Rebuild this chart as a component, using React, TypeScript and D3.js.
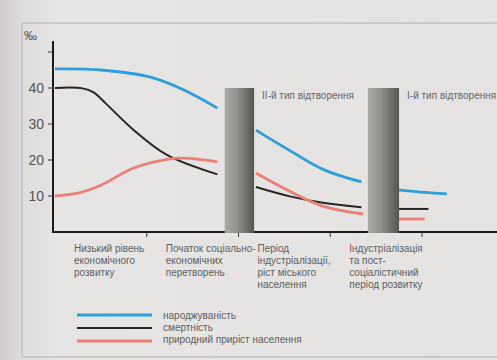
import React from "react";
import * as d3 from "d3";

// stage positions (x in stage units, 0 = y-axis, 1..4 = stage boundaries)
const stageTicks = [1, 2, 3, 4];
const yTicks = [10, 20, 30, 40, 50];
const yTickLabels = ["10", "20", "30", "40", ""];

const categories = [
  ["Низький рівень", "економічного", "розвитку"],
  ["Початок соціально-", "економічних", "перетворень"],
  ["Період", "індустріалізації,", "ріст міського", "населення"],
  ["Індустріалізація", "та пост-", "соціалістичний", "період розвитку"],
];
const categoryStart = [0, 1, 2, 3];

const bands = [
  [1.85, 2.17],
  [3.41, 3.75],
];
const bandLabels = ["ІІ-й тип відтворення", "І-й тип відтворення"];

// birth rate (народжуваність)
const birthSegments: [number, number][][] = [
  [[0, 45.3], [0.5, 45], [1.04, 43], [1.4, 39.5], [1.77, 34.4]],
  [[2.19, 28.3], [2.56, 22.6], [2.92, 17.4], [3.34, 13.9]],
  [[3.74, 11.7], [3.98, 11.1], [4.27, 10.6]],
];
// death rate (смертність)
const deathSegments: [number, number][][] = [
  [[0, 40], [0.3, 39.9], [0.42, 38.8], [0.55, 35.8], [0.85, 28.5], [1.22, 21.4], [1.77, 16]],
  [[2.19, 12.5], [2.56, 9.9], [2.92, 8.1], [3.34, 6.9]],
  [[3.74, 6.4], [4.07, 6.4]],
];
// natural increase (природний приріст)
const growthSegments: [number, number][][] = [
  [[0, 10], [0.25, 10.8], [0.5, 13], [0.85, 17.7], [1.22, 20.2], [1.4, 20.5], [1.77, 19.5]],
  [[2.19, 16.4], [2.56, 11.3], [2.92, 7.2], [3.36, 5]],
  [[3.74, 3.6], [4.03, 3.6]],
];

const legendLabels = ["народжуваність", "смертність", "природний приріст населення"];
const seriesColors = ["#2f9fd9", "#262626", "#ec7f78"];

export default function App() {
  const W = 497, H = 360;
  const x = d3.scaleLinear().domain([0, 4]).range([55, 422]);
  const y = d3.scaleLinear().domain([0, 50]).range([232, 52]);
  const line = d3
    .line<[number, number]>()
    .x((d) => x(d[0]))
    .y((d) => y(d[1]))
    .curve(d3.curveCatmullRom.alpha(0.5));
  const allSeries = [birthSegments, deathSegments, growthSegments];
  const widths = [2.8, 2, 2.8];
  const font = "'Liberation Sans', Arial, sans-serif";

  return (
    <svg
      width={W}
      height={H}
      style={{ position: "absolute", left: 0, top: 0 }}
      fontFamily={font}
    >
      <defs>
        <linearGradient id="bg" x1="0" x2="1" y1="0" y2="0">
          <stop offset="0" stopColor="#cfcacb" />
          <stop offset="0.045" stopColor="#dedcdc" />
          <stop offset="0.12" stopColor="#e6e5e4" />
          <stop offset="1" stopColor="#e4e3e1" />
        </linearGradient>
        <linearGradient id="band" x1="0" x2="1" y1="0" y2="0">
          <stop offset="0" stopColor="#a9a9a6" />
          <stop offset="0.45" stopColor="#8e8e8b" />
          <stop offset="1" stopColor="#55554f" />
        </linearGradient>
      </defs>
      <rect x={0} y={0} width={W} height={H} fill="url(#bg)" />
      {/* frame */}
      <path d={`M${W},23 H22 V357 H${W}`} fill="none" stroke="#b4b2b2" strokeWidth={1} />

      {/* y axis */}
      <line x1={53} x2={53} y1={41} y2={233} stroke="#1a1a1a" strokeWidth={2} />
      {yTicks.map((t, i) => (
        <g key={t}>
          <line x1={48} x2={53} y1={y(t)} y2={y(t)} stroke="#333" strokeWidth={1} />
          <text x={44} y={y(t) + 5} textAnchor="end" fontSize={14} fill="#555">
            {yTickLabels[i]}
          </text>
        </g>
      ))}
      <text x={24} y={40} fontSize={13} fill="#555">‰</text>

      {/* x axis */}
      <line x1={52} x2={W} y1={232} y2={232} stroke="#1a1a1a" strokeWidth={2} />
      {stageTicks.map((t) => (
        <line key={t} x1={x(t)} x2={x(t)} y1={232} y2={237} stroke="#333" strokeWidth={1} />
      ))}

      {/* series */}
      {allSeries.map((segs, si) =>
        segs.map((seg, k) => (
          <path
            key={`${si}-${k}`}
            d={line(seg) || ""}
            fill="none"
            stroke={seriesColors[si]}
            strokeWidth={widths[si]}
            strokeLinecap="butt"
          />
        ))
      )}

      {/* grey separators */}
      {bands.map((b, i) => (
        <g key={i}>
          <rect x={x(b[0])} y={88} width={x(b[1]) - x(b[0])} height={233 - 88} fill="url(#band)" />
          <text x={x(b[1]) + 8} y={99} fontSize={10} fill="#666">
            {bandLabels[i]}
          </text>
        </g>
      ))}

      {/* category labels */}
      {categories.map((lines, i) => (
        <text key={i} fontSize={10} fill="#5e5e5e">
          {lines.map((l, j) => (
            <tspan key={j} x={x(categoryStart[i]) + 19} y={252 + j * 12}>
              {l}
            </tspan>
          ))}
        </text>
      ))}

      {/* legend */}
      {legendLabels.map((l, i) => (
        <g key={i}>
          <line x1={77} x2={152} y1={315 + i * 13} y2={315 + i * 13} stroke={seriesColors[i]} strokeWidth={widths[i]} />
          <text x={163} y={319 + i * 12} fontSize={10} fill="#5e5e5e">
            {l}
          </text>
        </g>
      ))}
    </svg>
  );
}
